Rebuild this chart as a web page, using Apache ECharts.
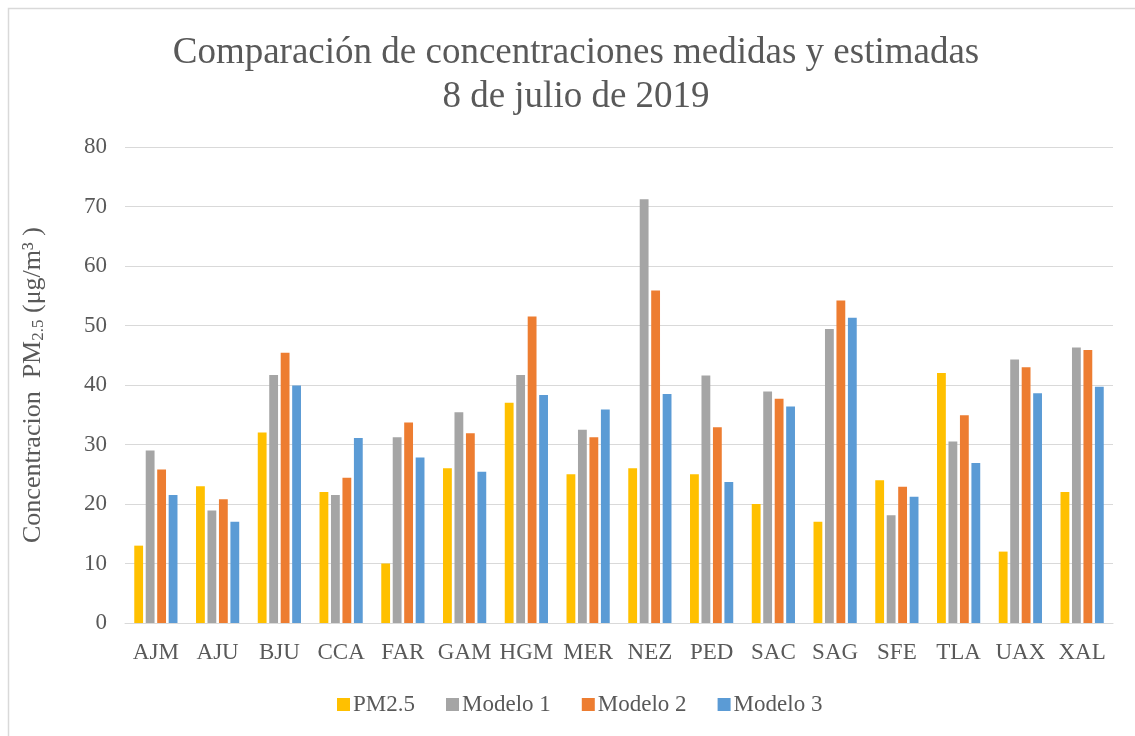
<!DOCTYPE html>
<html>
<head>
<meta charset="utf-8">
<style>
  html, body { margin: 0; padding: 0; background: #ffffff; }
  #chart { width: 1135px; height: 736px; }
</style>
<script src="https://cdn.jsdelivr.net/npm/echarts@6/dist/echarts.min.js"></script>
</head>
<body>
<div id="chart"></div>
<script>
// Monitoring stations
const stations = ['AJM', 'AJU', 'BJU', 'CCA', 'FAR', 'GAM', 'HGM', 'MER',
                  'NEZ', 'PED', 'SAC', 'SAG', 'SFE', 'TLA', 'UAX', 'XAL'];

// Measured PM2.5 concentrations (µg/m³)
const pm25 = [13, 23, 32, 22, 10, 26, 37, 25, 26, 25, 20, 17, 24, 42, 12, 22];

// Model estimates (µg/m³)
const modelo1 = [29.0, 18.9, 41.7, 21.5, 31.2, 35.4, 41.7, 32.5, 71.2, 41.6, 38.9, 49.4, 18.1, 30.5, 44.3, 46.3];
const modelo2 = [25.8, 20.8, 45.4, 24.4, 33.7, 31.9, 51.5, 31.2, 55.9, 32.9, 37.7, 54.2, 22.9, 34.9, 43.0, 45.9];
const modelo3 = [21.5, 17.0, 39.9, 31.1, 27.8, 25.4, 38.3, 35.9, 38.5, 23.7, 36.4, 51.3, 21.2, 26.9, 38.6, 39.7];

const seriesNames = ['PM2.5', 'Modelo 1', 'Modelo 2', 'Modelo 3'];
const seriesColors = ['#FFC000', '#A5A5A5', '#ED7D31', '#5B9BD5'];

const FONT = '"Liberation Serif", "DejaVu Serif", serif';
const TEXT = '#595959';

const chart = echarts.init(document.getElementById('chart'), null, { renderer: 'canvas' });

const dataSets = [pm25, modelo1, modelo2, modelo3];

chart.setOption({
  animation: false,
  backgroundColor: '#ffffff',
  color: seriesColors,
  title: {
    text: 'Comparación de concentraciones medidas y estimadas\n8 de julio de 2019',
    left: 571,
    textAlign: 'center',
    top: 26,
    textStyle: {
      fontFamily: FONT,
      fontWeight: 'normal',
      fontSize: 37,
      lineHeight: 44,
      color: TEXT
    }
  },
  legend: {
    bottom: 15,
    left: 332,
    itemWidth: 13,
    itemHeight: 13,
    itemGap: 31,
    icon: 'rect',
    textStyle: { fontFamily: FONT, fontSize: 23, color: TEXT, padding: [0, 0, 0, -2] },
    data: seriesNames
  },
  grid: {
    left: 125,
    right: 22,
    top: 147,
    bottom: 113,
    containLabel: false
  },
  xAxis: {
    type: 'category',
    data: stations,
    axisLine: { show: true, lineStyle: { color: '#D9D9D9', width: 1 } },
    axisTick: { show: false },
    axisLabel: {
      interval: 0,
      fontFamily: FONT,
      fontSize: 23,
      color: TEXT,
      margin: 18
    }
  },
  yAxis: {
    type: 'value',
    min: 0,
    max: 80,
    interval: 10,
    axisLine: { show: false },
    axisTick: { show: false },
    splitLine: { lineStyle: { color: '#D9D9D9', width: 1 } },
    axisLabel: {
      fontFamily: FONT,
      fontSize: 23,
      color: TEXT,
      margin: 18
    },
    name: '{t|Concentracion  PM}{s|2.5}{t| (μg/m³ )}',
    nameLocation: 'middle',
    nameGap: 78,
    nameTextStyle: {
      fontFamily: FONT,
      color: TEXT,
      rich: {
        t: { fontFamily: FONT, fontSize: 26, color: TEXT },
        s: { fontFamily: FONT, fontSize: 17, color: TEXT, padding: [10, 0, 0, 0] }
      }
    }
  },
  series: dataSets.map((d, i) => ({
    name: seriesNames[i],
    type: 'bar',
    data: d,
    barGap: '30%',
    barCategoryGap: '30%',
    itemStyle: { color: seriesColors[i] }
  })),
  graphic: [{
    type: 'rect',
    shape: { x: 8.5, y: 8.5, width: 1140, height: 740 },
    style: { fill: 'none', stroke: '#D9D9D9', lineWidth: 1.5 },
    silent: true
  }]
});
</script>
</body>
</html>
